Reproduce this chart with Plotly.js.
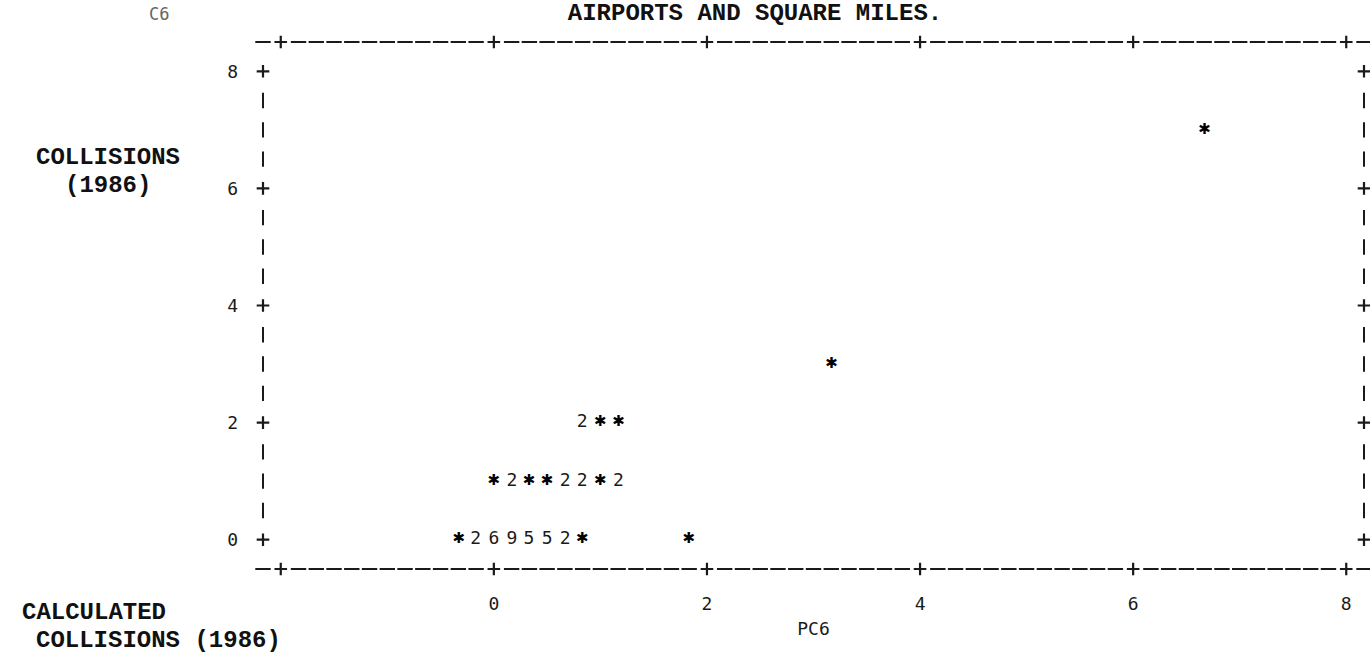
<!DOCTYPE html>
<html><head><meta charset="utf-8">
<script src="https://cdn.plot.ly/plotly-3.0.1.min.js"></script>
<style>html,body{margin:0;padding:0;background:#fff;} #chart{width:1370px;height:659px;}</style>
</head><body><div id="chart"></div>
<script>
const calcCollisions = [-0.33,-0.17,0.00,0.17,0.33,0.50,0.67,0.83,1.83,
                         0.00,0.17,0.33,0.50,0.67,0.83,1.00,1.17,
                         0.83,1.00,1.17,
                         3.17,
                         6.67];
const collisions     = [0,0,0,0,0,0,0,0,0,
                         1,1,1,1,1,1,1,1,
                         2,2,2,
                         3,
                         7];
const obsCount       = [1,2,6,9,5,5,2,1,1,
                         1,2,1,1,2,2,1,2,
                         2,1,1,
                         1,
                         1];
const xTickVals = [0,2,4,6,8];
const xTickText = ['0','2','4','6','8'];
const yTickVals = [0,2,4,6,8];
const yTickText = ['0','2','4','6','8'];
const titleText = 'AIRPORTS AND SQUARE MILES.';
const xTitleText = 'PC6';
const yPrinterLabel = 'C6';

// ---- printer grid (one column = 1/6 unit of PC6, one row = 0.5 unit of C6) ----
const colStep = 1/6, rowStep = 0.5;
const xLo = -2 - colStep, xHi = 8 + colStep, yLo = -0.5, yHi = 8.5;

const dashX=[],dashY=[],barX=[],barY=[],plusX=[],plusY=[];
const nCols = Math.round((xHi-xLo)/colStep);
for (let i=0;i<=nCols;i++){
  const x = xLo + i*colStep;
  const isPlus = i>0 && i<nCols && Math.abs(x/2 - Math.round(x/2))<1e-6;
  for (const y of [yLo,yHi]) {
    if (isPlus){plusX.push(x);plusY.push(y);} else {dashX.push(x);dashY.push(y);}
  }
}
const nRows = Math.round((8-0)/rowStep);
for (let j=0;j<=nRows;j++){
  const y = j*rowStep;
  const isPlus = Math.abs(y/2 - Math.round(y/2))<1e-6;
  for (const x of [xLo,xHi]) {
    if (isPlus){plusX.push(x);plusY.push(y);} else {barX.push(x);barY.push(y);}
  }
}

const ink = '#1a1a1a';
const plotterFont = {family:'DejaVu Sans Mono', size:18, color:ink};
const typedFont = {family:'Liberation Mono', size:24, color:'#111', weight:'bold'};

const singleX=[],singleY=[],multiX=[],multiY=[],multiT=[];
calcCollisions.forEach((x,i)=>{
  if (obsCount[i]===1){singleX.push(x);singleY.push(collisions[i]);}
  else {multiX.push(x);multiY.push(collisions[i]);multiT.push(String(obsCount[i]));}
});

const traces = [
  {type:'scatter',mode:'markers',x:dashX,y:dashY,cliponaxis:false,hoverinfo:'skip',
   marker:{symbol:'line-ew',size:11,line:{width:2,color:ink},color:ink}},
  {type:'scatter',mode:'markers',x:barX,y:barY,cliponaxis:false,hoverinfo:'skip',
   marker:{symbol:'line-ns',size:11,line:{width:2,color:ink},color:ink}},
  {type:'scatter',mode:'markers',x:plusX,y:plusY,cliponaxis:false,hoverinfo:'skip',
   marker:{symbol:'cross-thin',size:9,line:{width:2.2,color:ink},color:ink}},
  {type:'scatter',mode:'text',x:singleX,y:singleY,text:singleX.map(()=>'\u2731'),
   textposition:'middle center',cliponaxis:false,
   textfont:{family:'DejaVu Sans',size:15,color:'#000'}},
  {type:'scatter',mode:'text',x:multiX,y:multiY,text:multiT,
   textposition:'middle center',cliponaxis:false,textfont:plotterFont}
];

const P = {l:263, r:1364, t:42, b:569};
const ax = px => (px-P.l)/(P.r-P.l);
const ay = py => (P.b-py)/(P.b-P.t);

const layout = {
  width:1370, height:659,
  margin:{l:P.l, r:1370-P.r, t:P.t, b:659-P.b, pad:0},
  paper_bgcolor:'#fff', plot_bgcolor:'#fff', showlegend:false, hovermode:false,
  title:{text:titleText, font:typedFont, x:755/1370, xanchor:'center', xref:'container',
         y:1-12/659, yref:'container', yanchor:'middle'},
  xaxis:{range:[xLo,xHi], tickvals:xTickVals, ticktext:xTickText, ticks:'', showgrid:false,
         zeroline:false, showline:false, tickfont:plotterFont, ticklabelstandoff:22,
         title:{text:xTitleText, font:plotterFont, standoff:9}},
  yaxis:{range:[yLo,yHi], tickvals:yTickVals, ticktext:yTickText, ticks:'', showgrid:false,
         zeroline:false, showline:false, tickfont:plotterFont, ticklabelstandoff:24},
  annotations:[
    {text:'COLLISIONS', x:ax(108), y:ay(157), xref:'paper', yref:'paper', xanchor:'center', yanchor:'middle', showarrow:false, font:typedFont},
    {text:'(1986)', x:ax(108), y:ay(186), xref:'paper', yref:'paper', xanchor:'center', yanchor:'middle', showarrow:false, font:typedFont},
    {text:yPrinterLabel, x:ax(159), y:ay(14), xref:'paper', yref:'paper', xanchor:'center', yanchor:'middle', showarrow:false, font:{family:'DejaVu Sans Mono', size:17, color:'#666'}},
    {text:'CALCULATED', x:ax(20), y:ay(612), xref:'paper', yref:'paper', xanchor:'left', yanchor:'middle', showarrow:false, font:typedFont},
    {text:'COLLISIONS (1986)', x:ax(34), y:ay(640), xref:'paper', yref:'paper', xanchor:'left', yanchor:'middle', showarrow:false, font:typedFont}
  ]
};

Plotly.newPlot('chart', traces, layout, {staticPlot:true, displayModeBar:false});
</script>
</body></html>
